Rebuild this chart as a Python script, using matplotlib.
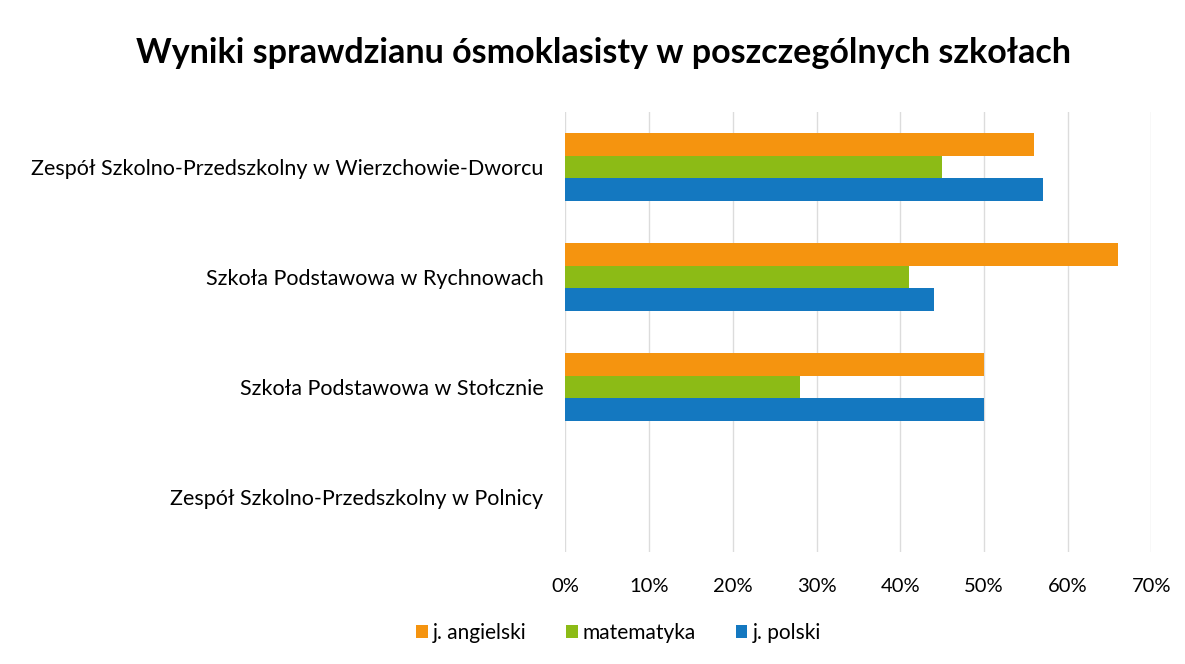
import matplotlib
matplotlib.use("Agg")
import matplotlib.pyplot as plt
import numpy as np

plt.rcParams['font.family'] = ['Lato', 'DejaVu Sans']

schools = [
    "Zespół Szkolno-Przedszkolny w Wierzchowie-Dworcu",
    "Szkoła Podstawowa w Rychnowach",
    "Szkoła Podstawowa w Stołcznie",
    "Zespół Szkolno-Przedszkolny w Polnicy",
]
series = ["j. angielski", "matematyka", "j. polski"]
angielski = [0.56, 0.66, 0.50, 0.0]
matematyka = [0.45, 0.41, 0.28, 0.0]
polski = [0.57, 0.44, 0.50, 0.0]
colors = ["#F5940F", "#8CBB16", "#1478C0"]
xticks = [0, 0.1, 0.2, 0.3, 0.4, 0.5, 0.6, 0.7]

fig = plt.figure(figsize=(11.85, 6.64), dpi=100)
ax = fig.add_axes([0.4772, 0.1687, 0.4945, 0.6627])

y = np.arange(len(schools))
h = 0.205
for i, (vals, name, c) in enumerate(zip([angielski, matematyka, polski], series, colors)):
    ax.barh(y + (i - 1) * h, vals, height=h, color=c, label=name, zorder=3)

ax.set_ylim(len(schools) - 0.5, -0.5)
ax.set_xlim(0, 0.7)
ax.set_xticks(xticks)
ax.set_xticklabels([f"{int(round(t * 100))}%" for t in xticks], fontsize=14.5)
ax.set_yticks(y)
ax.set_yticklabels(schools, fontsize=15.5)
ax.tick_params(length=0)
ax.tick_params(axis='x', pad=19)
ax.tick_params(axis='y', pad=16)
ax.grid(axis='x', color='#dcdcdc', linewidth=1, zorder=0)
for s in ax.spines.values():
    s.set_visible(False)

fig.suptitle("Wyniki sprawdzianu ósmoklasisty w poszczególnych szkołach",
             x=0.509, y=0.945, fontsize=24.5, fontweight='bold')

fig.legend(loc='center', bbox_to_anchor=(0.522, 0.0467), ncol=3, frameon=False,
           fontsize=15, handlelength=0.55, handleheight=0.55, handletextpad=0.25,
           columnspacing=1.9)

fig.savefig("out.png", dpi=100, facecolor='white')
